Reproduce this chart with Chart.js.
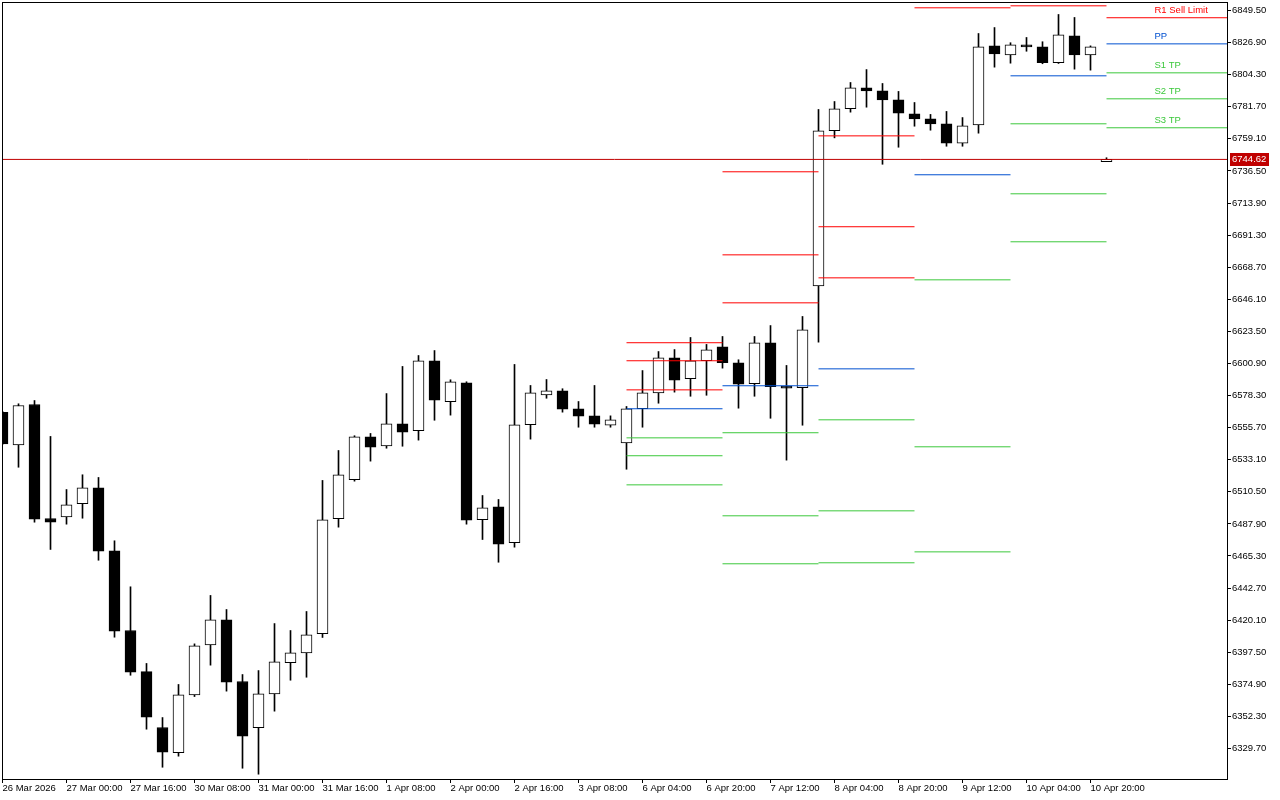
<!DOCTYPE html>
<html><head><meta charset="utf-8">
<script src="https://cdn.jsdelivr.net/npm/chart.js@4.4.1/dist/chart.umd.min.js"></script>
<style>html,body{margin:0;padding:0;background:#fff;overflow:hidden;}canvas{display:block;}</style>
</head><body>
<canvas id="c" width="1280" height="800"></canvas>
<script>
// ---- DATA (H4 candles, index 0 = 26 Mar 2026 08:00) ----
const opens = [6566.4, 6543.6, 6572.0, 6491.7, 6492.9, 6502.1, 6513.3, 6469.0, 6412.8, 6383.9,
  6344.5, 6326.7, 6367.5, 6402.7, 6420.4, 6376.9, 6344.3, 6368.2, 6390.1, 6397.1,
  6410.5, 6491.5, 6519.0, 6549.2, 6542.9, 6558.4, 6553.5, 6602.8, 6573.9, 6587.3,
  6490.8, 6499.9, 6474.6, 6557.7, 6578.8, 6581.6, 6569.0, 6564.0, 6557.4, 6545.0,
  6569.0, 6580.2, 6604.9, 6590.1, 6602.8, 6612.6, 6601.4, 6586.6, 6615.5, 6584.9,
  6583.8, 6655.6, 6764.8, 6780.3, 6795.1, 6792.9, 6786.6, 6776.7, 6773.2, 6769.7,
  6756.0, 6769.0, 6824.6, 6818.3, 6825.3, 6823.9, 6812.7, 6831.7, 6818.3, 6743.1];
const highs = [6567.1, 6572.5, 6574.8, 6549.5, 6512.1, 6522.5, 6520.6, 6476.0, 6443.6, 6389.6,
  6351.5, 6374.8, 6403.4, 6437.5, 6427.6, 6381.8, 6384.6, 6417.7, 6412.8, 6426.2,
  6518.5, 6539.6, 6550.0, 6551.6, 6579.7, 6598.8, 6606.5, 6610.0, 6589.4, 6588.0,
  6507.9, 6505.1, 6600.2, 6585.4, 6589.6, 6583.1, 6574.1, 6585.4, 6564.0, 6570.6,
  6595.9, 6609.3, 6610.7, 6619.2, 6614.3, 6619.9, 6603.5, 6619.9, 6627.6, 6599.5,
  6634.0, 6779.8, 6785.4, 6798.8, 6807.9, 6798.1, 6792.5, 6784.7, 6776.3, 6778.4,
  6774.1, 6833.3, 6837.5, 6826.8, 6830.5, 6827.5, 6846.7, 6844.6, 6824.6, 6745.8];
const lows = [6543.8, 6527.8, 6489.1, 6469.9, 6487.7, 6491.9, 6462.3, 6408.1, 6381.3, 6343.3,
  6316.5, 6324.3, 6366.3, 6388.4, 6370.1, 6315.8, 6311.6, 6356.0, 6377.8, 6379.9,
  6407.9, 6485.6, 6518.0, 6532.1, 6541.2, 6542.6, 6546.9, 6560.9, 6564.5, 6487.7,
  6476.9, 6460.9, 6471.5, 6547.6, 6576.4, 6566.6, 6556.0, 6556.0, 6556.0, 6526.4,
  6556.0, 6572.9, 6580.7, 6577.8, 6578.5, 6597.6, 6569.4, 6577.8, 6562.3, 6532.8,
  6557.4, 6615.9, 6759.8, 6777.9, 6781.4, 6741.2, 6753.2, 6768.0, 6765.2, 6753.9,
  6753.9, 6763.1, 6809.6, 6812.4, 6820.8, 6812.0, 6812.2, 6808.2, 6807.5, 6743.1];
const closes = [6544.3, 6571.3, 6491.2, 6489.1, 6501.4, 6513.3, 6468.7, 6412.3, 6383.4, 6351.8,
  6327.1, 6367.5, 6402.0, 6420.4, 6376.4, 6338.4, 6368.2, 6390.8, 6397.1, 6409.8,
  6490.8, 6522.5, 6549.2, 6541.9, 6558.4, 6552.5, 6602.8, 6575.0, 6588.0, 6490.5,
  6499.2, 6473.6, 6557.7, 6580.2, 6581.6, 6568.7, 6563.8, 6558.1, 6561.2, 6569.0,
  6580.2, 6604.9, 6589.1, 6602.8, 6610.5, 6601.4, 6586.3, 6615.5, 6584.5, 6583.5,
  6624.6, 6764.8, 6780.3, 6795.1, 6792.9, 6786.6, 6777.2, 6773.2, 6769.7, 6756.0,
  6768.3, 6823.9, 6819.0, 6825.3, 6823.9, 6812.7, 6832.4, 6818.3, 6823.9, 6744.62];

// time-axis labels, one every 4 bars
const timeLabels = ["26 Mar 2026", "27 Mar 00:00", "27 Mar 16:00", "30 Mar 08:00", "31 Mar 00:00",
  "31 Mar 16:00", "1 Apr 08:00", "2 Apr 00:00", "2 Apr 16:00", "3 Apr 08:00", "6 Apr 04:00",
  "6 Apr 20:00", "7 Apr 12:00", "8 Apr 04:00", "8 Apr 20:00", "9 Apr 12:00", "10 Apr 04:00", "10 Apr 20:00"];
const barsPerLabel = 4;

// daily pivot levels (day start bar index), null = off chart
const pivotDayStart = [39, 45, 51, 57, 63, 69];
const R3 = [6615.5, 6735.9, 6761.2, null, null, null];
const R2 = [6602.8, 6677.4, 6697.2, null, null, null];
const R1 = [6582.3, 6643.6, 6661.2, 6851.4, 6852.8, 6844.4];
const PP = [6569.0, 6585.2, 6597.1, 6733.8, 6803.5, 6826.0];
const S1 = [6548.5, 6552.1, 6561.2, 6659.8, 6769.7, 6805.6];
const S2 = [6535.9, 6493.6, 6497.1, 6542.2, 6720.4, 6787.3];
const S3 = [6515.4, 6459.8, 6460.5, 6468.2, 6686.6, 6766.9];
const levelNames = ["R1 Sell Limit", "PP", "S1 TP", "S2 TP", "S3 TP"];
const currentPrice = 6744.62;

// price-axis tick labels
const yTickStart = 6329.7, yTickStep = 22.6, yTickCount = 24;
const yTicks = [];
for (let i = 0; i < yTickCount; i++) yTicks.push(+(yTickStart + i * yTickStep).toFixed(2));

// ---- view ----
const Y_MIN = 6308.22, Y_MAX = 6855.49;
const X_MIN = -1 / 32, X_MAX = X_MIN + 1225 / 16;
const COL_R = '#ff0000', COL_P = '#0050d0', COL_S = '#3cc83c', COL_CUR = '#c00000';
const FONT = "'Liberation Sans', Arial, sans-serif";

function segs(levelsList) {
  const pts = [];
  for (let d = 0; d < pivotDayStart.length; d++) {
    const s = pivotDayStart[d];
    const e = d + 1 < pivotDayStart.length ? pivotDayStart[d + 1] : X_MAX;
    for (const arr of levelsList) {
      if (arr[d] == null) continue;
      pts.push({x: s, y: arr[d]}, {x: e, y: arr[d]}, {x: e, y: null});
    }
  }
  return pts;
}

const lineBase = {type: 'line', borderWidth: 1, pointRadius: 0, spanGaps: false, order: 0, tension: 0};
const noPad = s => { s.paddingTop = 0; s.paddingBottom = 0; s.paddingLeft = 0; s.paddingRight = 0; };

const overlay = {
  id: 'overlay',
  afterDatasetsDraw(chart) {
    const {ctx, chartArea: a, scales: {x, y}} = chart;
    ctx.save();
    ctx.font = "9.5px " + FONT;
    ctx.textBaseline = 'middle';
    ctx.textAlign = 'left';
    const d = pivotDayStart.length - 1;
    const lv = [R1[d], PP[d], S1[d], S2[d], S3[d]];
    const cols = [COL_R, COL_P, COL_S, COL_S, COL_S];
    const lx = x.getPixelForValue(pivotDayStart[d] + 3);
    lv.forEach((v, i) => {
      ctx.fillStyle = cols[i];
      ctx.fillText(levelNames[i], lx, y.getPixelForValue(v) - 7);
    });
    ctx.strokeStyle = '#000';
    ctx.lineWidth = 1;
    ctx.strokeRect(a.left + 0.5, a.top + 0.5, a.right - a.left, a.bottom - a.top);
    const py = Math.round(y.getPixelForValue(currentPrice));
    ctx.fillStyle = COL_CUR;
    ctx.fillRect(a.right + 3, py - 6, 39, 13);
    ctx.fillStyle = '#fff';
    ctx.fillText(currentPrice.toFixed(2), a.right + 5, py + 0.5);
    ctx.restore();
  }
};

new Chart(document.getElementById('c'), {
  type: 'bar',
  data: {
    datasets: [
      Object.assign({}, lineBase, {label: 'current', borderColor: COL_CUR,
        data: [{x: X_MIN, y: currentPrice}, {x: X_MAX, y: currentPrice}]}),
      Object.assign({}, lineBase, {label: 'R', borderColor: COL_R, data: segs([R3, R2, R1])}),
      Object.assign({}, lineBase, {label: 'PP', borderColor: COL_P, data: segs([PP])}),
      Object.assign({}, lineBase, {label: 'S', borderColor: COL_S, data: segs([S1, S2, S3])}),
      {
        label: 'body', order: 1, grouped: false, barThickness: 11,
        data: opens.map((o, i) => ({x: i, y: [o, closes[i]]})),
        backgroundColor: opens.map((o, i) => closes[i] >= o ? '#ffffff' : '#000000'),
        borderColor: '#000', borderWidth: 1, borderSkipped: false
      },
      {
        label: 'wick', order: 2, grouped: false, barThickness: 1,
        data: lows.map((l, i) => ({x: i, y: [l, highs[i]]})),
        backgroundColor: '#000', borderWidth: 0
      }
    ]
  },
  options: {
    responsive: false,
    animation: false,
    events: [],
    layout: {padding: {left: 2, top: 2, right: 0, bottom: 0}},
    plugins: {legend: {display: false}, tooltip: {enabled: false}},
    scales: {
      x: {
        type: 'linear', min: X_MIN, max: X_MAX, offset: false,
        grid: {display: true, offset: false, drawOnChartArea: false, drawTicks: true, tickLength: 4, color: '#000', lineWidth: 1},
        border: {display: true, color: '#000', width: 1},
        afterBuildTicks: s => { s.ticks = timeLabels.map((t, i) => ({value: i * barsPerLabel})); },
        afterFit: s => { s.height = 21; noPad(s); },
        ticks: {
          autoSkip: false, maxRotation: 0, minRotation: 0, align: 'start', padding: 0,
          color: '#000', font: {family: FONT, size: 9.5},
          callback: v => timeLabels[Math.round(v / barsPerLabel)]
        }
      },
      y: {
        type: 'linear', position: 'right', min: Y_MIN, max: Y_MAX,
        grid: {display: true, drawOnChartArea: false, drawTicks: true, tickLength: 4, color: '#000', lineWidth: 1},
        border: {display: true, color: '#000', width: 1},
        afterBuildTicks: s => { s.ticks = yTicks.map(v => ({value: v})); },
        afterFit: s => { s.width = 53; noPad(s); },
        ticks: {
          autoSkip: false, padding: 1, color: '#000', font: {family: FONT, size: 9.5},
          callback: v => Number(v).toFixed(2)
        }
      }
    }
  },
  plugins: [overlay]
});
</script>
</body></html>
